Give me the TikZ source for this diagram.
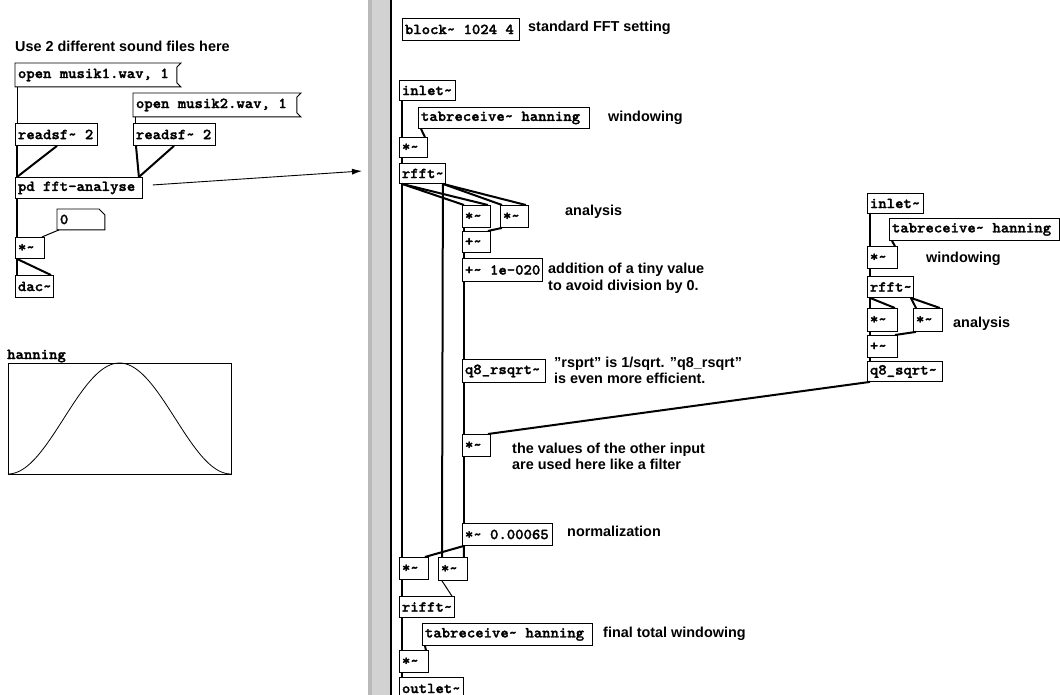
\documentclass[tikz,border=0pt]{standalone}
\usepackage{fontspec}
\setmainfont{Liberation Sans}
\newfontfamily\pdfont{lmmonolt10-bold.otf}[FakeBold=1.6, FakeStretch=1.05]
\usetikzlibrary{arrows.meta}
\newcommand\tld{\textasciitilde}
\newcommand\ps{\hspace*{0.55em}}
\newcommand\pdbox[7]{%
  \pgfmathsetmacro\pdw{#5-#3-5}%
  \pgfmathsetmacro\pdh{#6-#4}%
  \node[#1, text width=\pdw pt, minimum height=\pdh pt] (#2) at (#3,#4) {\mbox{#7}};}
\tikzset{
  obj/.style={draw, line width=0.9pt, anchor=north west, inner xsep=2.5pt, inner ysep=0pt,
    font=\pdfont\fontsize{15.2}{15.2}\selectfont, align=left},
  msgbox/.style={obj, draw=none},
  cmt/.style={anchor=base west, inner sep=0pt, font=\bfseries\fontsize{14.4}{17}\selectfont},
  sig/.style={line width=2pt},
  ctl/.style={line width=1pt},
}
\begin{document}
\begin{tikzpicture}[x=1pt,y=-1pt]
\useasboundingbox (0,0) rectangle (1060,695);
\clip (0,0) rectangle (1060,695);
\fill[white] (0,0) rectangle (1060,695);
% divider bar
\fill[gray!35] (368,0) rectangle (390,695);
\fill[gray!55] (368,0) rectangle (372,695);
\draw[line width=2pt] (391,0) -- (391,695);

% ---------------- left patch ----------------
\node[cmt] (cUse) at (15,52) {Use 2 different sound files here};
\pdbox{msgbox}{msg1}{15}{63}{180}{86}{open\ps musik1.wav,\ps 1}
\pdbox{msgbox}{msg2}{133}{93}{300}{116}{open\ps musik2.wav,\ps 1}
\foreach \m in {msg1,msg2}{
  \draw[line width=0.9pt] (\m.north west) -- (\m.north east) -- ([xshift=-4pt,yshift=-4pt]\m.north east)
    -- ([xshift=-4pt,yshift=4pt]\m.south east) -- (\m.south east) -- (\m.south west) -- cycle;}
\pdbox{obj}{rsf1}{15}{123}{97}{145}{readsf\tld\ps 2}
\pdbox{obj}{rsf2}{133}{123}{215}{145}{readsf\tld\ps 2}
\pdbox{obj}{pd}{15}{177}{142}{198}{pd\ps fft-analyse}
\pdbox{msgbox}{num}{57}{209}{104}{229}{0}
\draw[line width=0.9pt] (num.north west) -- ([xshift=-6pt]num.north east) -- ([yshift=-6pt]num.north east)
  -- (num.south east) -- (num.south west) -- cycle;
\pdbox{obj}{mulL}{15}{237}{44}{258}{*\tld}
\pdbox{obj}{dac}{15}{275}{53}{297}{dac\tld}

\draw[ctl] ([xshift=2pt]msg1.south west) -- ([xshift=2pt]rsf1.north west);
\draw[ctl] ([xshift=2pt]msg2.south west) -- ([xshift=2pt]rsf2.north west);
\draw[sig] ([xshift=2pt]rsf1.south west) -- ([xshift=2pt]pd.north west);
\draw[sig] ([xshift=42pt]rsf1.south west) -- ([xshift=2pt]pd.north west);
\draw[sig] ([xshift=3pt]rsf2.south west) -- ([xshift=-4pt]pd.north east);
\draw[sig] ([xshift=41pt]rsf2.south west) -- ([xshift=-4pt]pd.north east);
\draw[sig] ([xshift=2pt]pd.south west) -- ([xshift=2pt]mulL.north west);
\draw[ctl] ([xshift=2pt]num.south west) -- ([xshift=-3pt]mulL.north east);
\draw[sig] ([xshift=2pt]mulL.south west) -- ([xshift=2pt]dac.north west);
\draw[sig] ([xshift=2pt]mulL.south west) -- ([xshift=-3pt]dac.north east);

\coordinate (arEnd) at (362,171);
\draw[line width=0.9pt, -{Latex[length=10pt,width=6pt]}] ([xshift=10pt,yshift=3pt]pd.east) -- (arEnd);

% hanning array
\node[anchor=base west, inner sep=0pt, font=\pdfont\fontsize{15.2}{15.2}\selectfont] (hlab) at (7,359) {hanning};
\node[draw, line width=0.9pt, anchor=north west, minimum width=223pt, minimum height=111pt, inner sep=0pt] (arr) at (8,363) {};
\draw[line width=0.8pt] plot[domain=0:1, samples=90, smooth] ({8+223*\x},{474-111*(sin(180*\x))^2});

% ---------------- middle patch ----------------
\pdbox{obj}{block}{402}{18}{519}{40}{block\tld\ps 1024\ps 4}
\node[cmt] (cStd) at (528,32) {standard FFT setting};
\pdbox{obj}{inl}{399}{80}{455}{100}{inlet\tld}
\pdbox{obj}{tab1}{418}{107}{589}{128}{tabreceive\tld\ps hanning}
\node[cmt] (cWin) at (608,122) {windowing};
\pdbox{obj}{mul1}{399}{137}{427}{157}{*\tld}
\pdbox{obj}{rfft}{399}{163}{445}{183}{rfft\tld}
\pdbox{obj}{mulA}{462}{205}{490}{227}{*\tld}
\pdbox{obj}{mulB}{500}{205}{528}{227}{*\tld}
\node[cmt] (cAna) at (565,215) {analysis};
\pdbox{obj}{plus}{462}{231}{490}{252}{+\tld}
\pdbox{obj}{plusc}{462}{258}{542}{281}{+\tld\ps 1e-020}
\node[cmt] (cAdd1) at (548,273) {addition of a tiny value};
\node[cmt] (cAdd2) at (548,290) {to avoid division by 0.};
\pdbox{obj}{q8r}{462}{359}{545}{382}{q8\_rsqrt\tld}
\node[cmt] (cRs1) at (554,367) {"rsprt" is 1/sqrt. "q8\_rsqrt"};
\node[cmt] (cRs2) at (554,383) {is even more efficient.};
\pdbox{obj}{mulC}{462}{434}{490}{456}{*\tld}
\node[cmt] (cVal1) at (512,453) {the values of the other input};
\node[cmt] (cVal2) at (512,469) {are used here like a filter};
\pdbox{obj}{mulN}{462}{523}{552}{545}{*\tld\ps 0.00065}
\node[cmt] (cNorm) at (567,536) {normalization};
\pdbox{obj}{mulD}{399}{557}{428}{579}{*\tld}
\pdbox{obj}{mulE}{438}{557}{467}{580}{*\tld}
\pdbox{obj}{rifft}{399}{596}{454}{617}{rifft\tld}
\pdbox{obj}{tab2}{422}{623}{592}{645}{tabreceive\tld\ps hanning}
\node[cmt] (cFin) at (603,637) {final total windowing};
\pdbox{obj}{mulF}{399}{650}{428}{672}{*\tld}
\pdbox{obj}{outl}{399}{677}{463}{699}{outlet\tld}

\draw[sig] ([xshift=3pt]inl.south west) -- ([xshift=3pt]mul1.north west);
\draw[sig] ([xshift=3pt]tab1.south west) -- ([xshift=-3pt]mul1.north east);
\draw[sig] ([xshift=3pt]mul1.south west) -- ([xshift=3pt]rfft.north west);
\draw[sig] ([xshift=3pt]rfft.south west) -- ([xshift=2pt]mulA.north west);
\draw[sig] ([xshift=3pt]rfft.south west) -- ([xshift=-3pt]mulA.north east);
\draw[sig] ([xshift=-3pt]rfft.south east) -- ([xshift=2pt]mulB.north west);
\draw[sig] ([xshift=-3pt]rfft.south east) -- ([xshift=-3pt]mulB.north east);
\draw[sig] ([xshift=3pt]rfft.south west) -- ([xshift=3pt]mulD.north west);
\draw[sig] ([xshift=-3pt]rfft.south east) -- ([xshift=4pt]mulE.north west);
\draw[sig] ([xshift=2pt]mulA.south west) -- ([xshift=2pt]plus.north west);
\draw[sig] ([xshift=2pt]mulB.south west) -- ([xshift=-3pt]plus.north east);
\draw[sig] ([xshift=2pt]plus.south west) -- ([xshift=2pt]plusc.north west);
\draw[sig] ([xshift=2pt]plusc.south west) -- ([xshift=2pt]q8r.north west);
\draw[sig] ([xshift=2pt]q8r.south west) -- ([xshift=2pt]mulC.north west);
\draw[sig] ([xshift=2pt]mulC.south west) -- ([xshift=2pt]mulN.north west);
\draw[sig] ([xshift=2pt]mulN.south west) -- ([xshift=-4pt]mulD.north east);
\draw[sig] ([xshift=2pt]mulN.south west) -- ([xshift=-4pt]mulE.north east);
\draw[sig] ([xshift=3pt]mulD.south west) -- ([xshift=3pt]rifft.north west);
\draw[ctl] ([xshift=4pt]mulE.south west) -- ([xshift=-3pt]rifft.north east);
\draw[sig] ([xshift=3pt]rifft.south west) -- ([xshift=3pt]mulF.north west);
\draw[sig] ([xshift=3pt]tab2.south west) -- ([xshift=-3pt]mulF.north east);
\draw[sig] ([xshift=3pt]mulF.south west) -- ([xshift=3pt]outl.north west);

% ---------------- right patch ----------------
\pdbox{obj}{inl2}{867}{193}{923}{213}{inlet\tld}
\pdbox{obj}{tab3}{889}{218}{1059}{240}{tabreceive\tld\ps hanning}
\node[cmt] (cWin2) at (926,262) {windowing};
\pdbox{obj}{mul2}{867}{246}{897}{268}{*\tld}
\pdbox{obj}{rfft2}{867}{276}{913}{297}{rfft\tld}
\pdbox{obj}{mula}{867}{308}{897}{331}{*\tld}
\pdbox{obj}{mulb}{913}{308}{942}{331}{*\tld}
\node[cmt] (cAna2) at (953,327) {analysis};
\pdbox{obj}{plus2}{867}{335}{897}{357}{+\tld}
\pdbox{obj}{q8s}{867}{361}{942}{381}{q8\_sqrt\tld}

\draw[sig] ([xshift=3pt]inl2.south west) -- ([xshift=3pt]mul2.north west);
\draw[sig] ([xshift=3pt]tab3.south west) -- ([xshift=-3pt]mul2.north east);
\draw[sig] ([xshift=3pt]mul2.south west) -- ([xshift=3pt]rfft2.north west);
\draw[sig] ([xshift=3pt]rfft2.south west) -- ([xshift=3pt]mula.north west);
\draw[sig] ([xshift=3pt]rfft2.south west) -- ([xshift=-3pt]mula.north east);
\draw[sig] ([xshift=-3pt]rfft2.south east) -- ([xshift=3pt]mulb.north west);
\draw[sig] ([xshift=-3pt]rfft2.south east) -- ([xshift=-3pt]mulb.north east);
\draw[sig] ([xshift=3pt]mula.south west) -- ([xshift=3pt]plus2.north west);
\draw[sig] ([xshift=3pt]mulb.south west) -- ([xshift=-3pt]plus2.north east);
\draw[sig] ([xshift=3pt]plus2.south west) -- ([xshift=3pt]q8s.north west);
\draw[sig] ([xshift=3pt]q8s.south west) -- ([xshift=-3pt]mulC.north east);
\end{tikzpicture}
\end{document}
